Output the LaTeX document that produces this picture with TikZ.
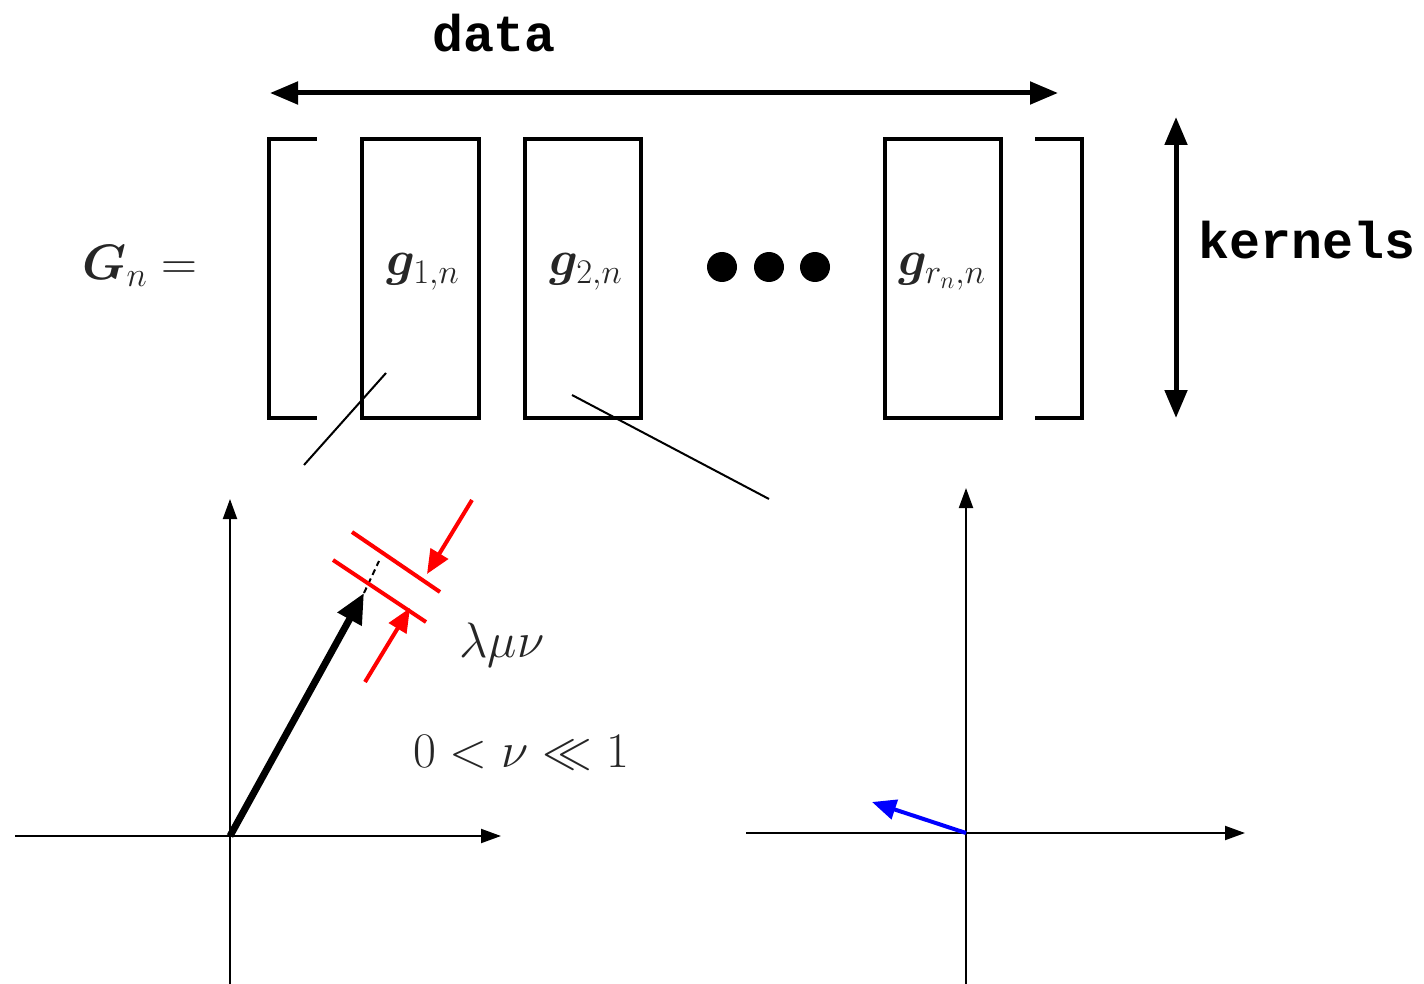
\documentclass[tikz,border=0pt]{standalone}
\usepackage{amsmath,amssymb,bm}
\usepackage{fontspec}
\newfontfamily\courfont{Liberation Mono}
\usetikzlibrary{arrows.meta}
\tikzset{
  boxline/.style={line width=2pt, line cap=rect},
  gbox/.style={boxline},
  bigarrow/.style={line width=2.5pt, {Triangle[length=14pt,width=11pt]}-{Triangle[length=14pt,width=11pt]}},
  axis/.style={line width=1pt, -{Triangle[length=10pt,width=7pt]}},
  thinline/.style={line width=1pt},
  vec/.style={line width=3.5pt, -{Triangle[length=15pt,width=13pt]}},
  redbar/.style={red, line width=2pt},
  redarrow/.style={red, line width=2pt, -{Triangle[length=12pt,width=10pt]}},
  bluearrow/.style={blue, line width=2pt, -{Triangle[length=12pt,width=10pt]}},
  mathlbl/.style={text=black!85, font=\fontsize{23.5}{28}\selectfont, inner sep=0pt},
  biglbl/.style={mathlbl, font=\fontsize{24.5}{29}\selectfont},
  monolbl/.style={font=\courfont\bfseries\fontsize{25.8}{30}\selectfont, inner sep=0pt},
  dot/.style={circle, fill=black, minimum size=15pt, inner sep=0pt}
}
\begin{document}
\begin{tikzpicture}[x=0.5pt,y=-0.5pt]
\useasboundingbox (0,0) rectangle (1424,984);
% labels
\node[monolbl] (data) at (494,33) {data};
\node[monolbl] (kern) at (1307,240) {kernels};
\node[mathlbl] (Gn) at (140,266) {$\bm{G}_n =$};
% arrows
\coordinate (dl) at (270,93);
\coordinate (dr) at (1058,93);
\draw[bigarrow] (dl) -- (dr);
\coordinate (kt) at (1176,117);
\coordinate (kb) at (1176,418);
\draw[bigarrow] (kt) -- (kb);
% brackets
\draw[boxline] (315,139) -- (269,139) -- (269,418) -- (315,418);
\draw[boxline] (1037,139) -- (1082,139) -- (1082,418) -- (1037,418);
% boxes
\node[gbox, draw, minimum width=58.5pt, minimum height=139.5pt, inner sep=0pt] (b1) at (420.5,278.5) {};
\node[gbox, draw, minimum width=58pt, minimum height=139.5pt, inner sep=0pt] (b2) at (583,278.5) {};
\node[gbox, draw, minimum width=58pt, minimum height=139.5pt, inner sep=0pt] (b3) at (943,278.5) {};
\node[biglbl] (g1) at (423,272) {$\bm{g}_{1,n}$};
\node[biglbl] (g2) at (586,272) {$\bm{g}_{2,n}$};
\node[biglbl] (g3) at (942,272) {$\bm{g}_{r_n,n}$};
% dots
\node[dot] (d1) at (722,267) {};
\node[dot] (d2) at (769,267) {};
\node[dot] (d3) at (815,267) {};
% zoom lines
\coordinate (z1a) at (386,373);
\coordinate (z1b) at (304,465);
\coordinate (z2a) at (572,395);
\coordinate (z2b) at (769,499);
\draw[thinline] (z1a) -- (z1b);
\draw[thinline] (z2a) -- (z2b);
% left axes
\coordinate (O1) at (230,836);
\coordinate (x1l) at (15,836);
\coordinate (x1r) at (501,836);
\coordinate (y1b) at (230,984);
\coordinate (y1t) at (230,499);
\draw[axis] (x1l) -- (x1r);
\draw[axis] (y1b) -- (y1t);
\coordinate (vt) at (364,593);
\coordinate (vd) at (379,561);
\draw[vec] (O1) -- (vt);
\draw[line width=1pt, dashed, dash pattern=on 3pt off 2pt] (vt) -- (vd);
\coordinate (ra1) at (333,560);
\coordinate (ra2) at (426,622);
\coordinate (rb1) at (352,532);
\coordinate (rb2) at (440,592);
\draw[redbar] (ra1) -- (ra2);
\draw[redbar] (rb1) -- (rb2);
\coordinate (r1s) at (472,500);
\coordinate (r1t) at (427,574);
\coordinate (r2s) at (365,682);
\coordinate (r2t) at (410,608);
\draw[redarrow] (r1s) -- (r1t);
\draw[redarrow] (r2s) -- (r2t);
\node[mathlbl] (lmn) at (502,645) {$\lambda\mu\nu$};
\node[mathlbl] (ineq) at (521,752) {$0<\nu\ll 1$};
% right axes
\coordinate (O2) at (966,833);
\coordinate (x2l) at (746,833);
\coordinate (x2r) at (1245,833);
\coordinate (y2b) at (966,984);
\coordinate (y2t) at (966,488);
\draw[axis] (x2l) -- (x2r);
\draw[axis] (y2b) -- (y2t);
\coordinate (bt) at (872,802);
\draw[bluearrow] (O2) -- (bt);
\end{tikzpicture}
\end{document}
